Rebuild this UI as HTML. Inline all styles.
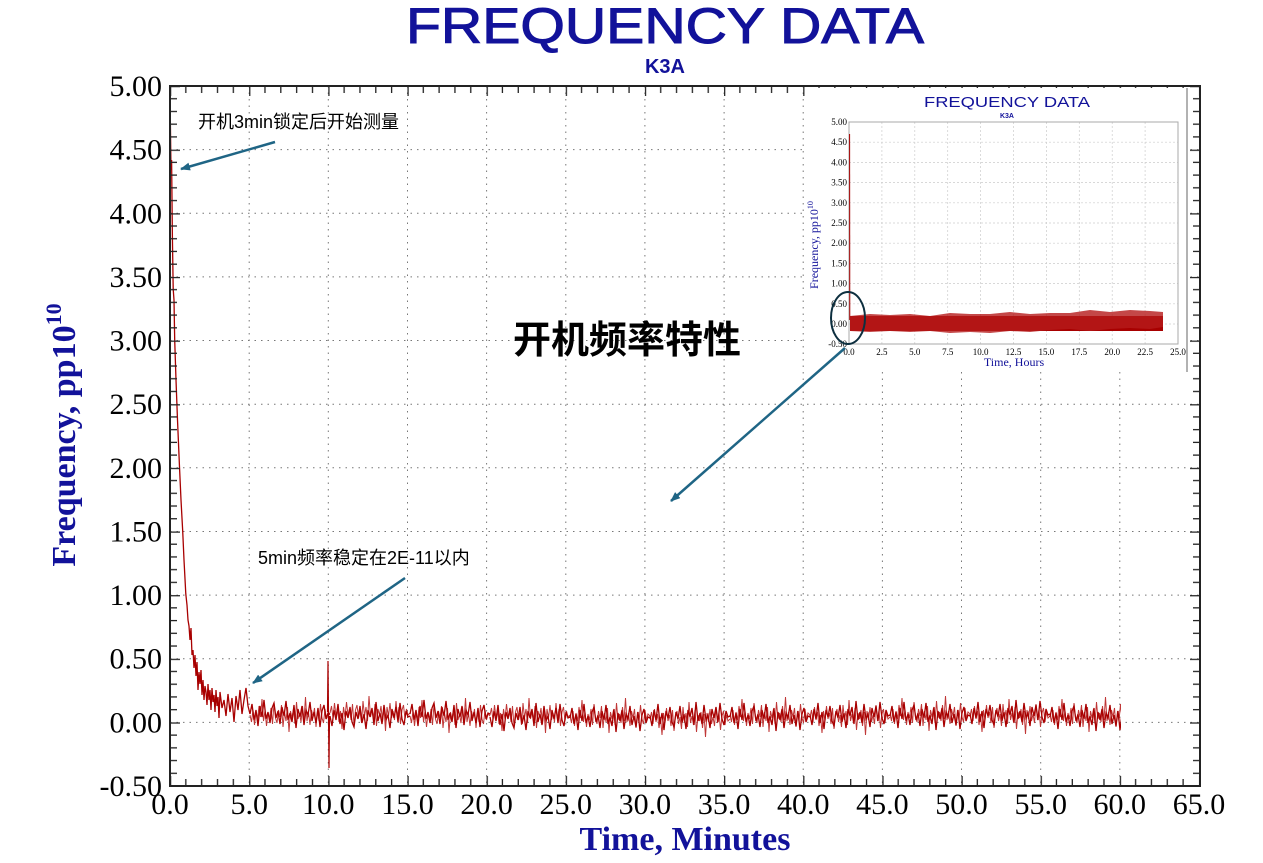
<!DOCTYPE html>
<html><head><meta charset="utf-8"><style>
html,body{margin:0;padding:0;background:#fff;}
svg{display:block;}
</style></head><body>
<svg width="1263" height="863" xmlns="http://www.w3.org/2000/svg" xmlns:xlink="http://www.w3.org/1999/xlink">
<defs>
<pattern id="tb" x="170" y="776" width="79.15" height="10" patternUnits="userSpaceOnUse">
<g stroke="#222" stroke-width="1.3"><line x1="0.6" y1="0" x2="0.6" y2="10"/><line x1="15.83" y1="3" x2="15.83" y2="10"/><line x1="31.66" y1="3" x2="31.66" y2="10"/><line x1="47.49" y1="3" x2="47.49" y2="10"/><line x1="63.32" y1="3" x2="63.32" y2="10"/></g></pattern>
<pattern id="tt" x="170" y="86" width="79.15" height="10" patternUnits="userSpaceOnUse">
<g stroke="#222" stroke-width="1.3"><line x1="0.6" y1="0" x2="0.6" y2="10"/><line x1="15.83" y1="0" x2="15.83" y2="7"/><line x1="31.66" y1="0" x2="31.66" y2="7"/><line x1="47.49" y1="0" x2="47.49" y2="7"/><line x1="63.32" y1="0" x2="63.32" y2="7"/></g></pattern>
<pattern id="tl" x="170" y="86" width="10" height="63.64" patternUnits="userSpaceOnUse">
<g stroke="#222" stroke-width="1.3"><line x1="0" y1="0.6" x2="10" y2="0.6"/><line x1="0" y1="12.73" x2="7" y2="12.73"/><line x1="0" y1="25.46" x2="7" y2="25.46"/><line x1="0" y1="38.18" x2="7" y2="38.18"/><line x1="0" y1="50.91" x2="7" y2="50.91"/></g></pattern>
<pattern id="tr" x="1190" y="86" width="10" height="63.64" patternUnits="userSpaceOnUse">
<g stroke="#222" stroke-width="1.3"><line x1="0" y1="0.6" x2="10" y2="0.6"/><line x1="3" y1="12.73" x2="10" y2="12.73"/><line x1="3" y1="25.46" x2="10" y2="25.46"/><line x1="3" y1="38.18" x2="10" y2="38.18"/><line x1="3" y1="50.91" x2="10" y2="50.91"/></g></pattern>
<path id="nz" d="M0,0 L2,-10 L4,6 L6,-4 L8,12 L10,-8 L12,3 L14,-14 L16,5 L18,-2 L20,9 L22,-6 L24,-11 L26,4 L28,-3 L30,10 L32,-7 L34,2 L36,-13 L38,6 L40,-1 L42,8 L44,-9 L46,14 L48,-5 L50,3 L52,-8 L54,11 L56,-4 L58,1 L60,-12 L62,7 L64,-2 L66,9 L68,-6 L70,13 L72,-3 L74,-9 L76,5 L78,-1 L80,0" fill="none" stroke="#a80000" stroke-width="1.3"/>
<path id="nz2" d="M0,0 L1.5,7 L3,-5 L4.5,10 L6,-3 L7.5,5 L9,-9 L10.5,2 L12,-16 L13.5,6 L15,-4 L16.5,11 L18,-2 L19.5,4 L21,-7 L22.5,9 L24,-12 L25.5,3 L27,8 L28.5,-5 L30,2 L31.5,-10 L33,12 L34.5,-3 L36,6 L37.5,-8 L39,17 L40.5,-4 L42,3 L43.5,-6 L45,9 L46.5,-13 L48,4 L49.5,-2 L51,7 L52.5,-9 L54,5 L55.5,-18 L57,6 L58.5,-3 L60,10 L61.5,-5 L63,2 L64.5,-7 L66,12 L67.5,-4 L69,6 L70.5,-11 L72,3 L73.5,8 L75,-6 L76.5,4 L78,-2 L80,0" fill="none" stroke="#c03838" stroke-width="1"/>
<clipPath id="cp"><rect x="170" y="86" width="951" height="700"/></clipPath>
<marker id="ar" markerWidth="10" markerHeight="8" refX="9" refY="4" orient="auto" markerUnits="userSpaceOnUse"><path d="M0,0L10,4L0,8z" fill="#1f6585"/></marker>
</defs>
<rect width="1263" height="863" fill="#fff"/>
<text x="665" y="43" text-anchor="middle" font-family="Liberation Sans, sans-serif" font-size="50" fill="#12129a" stroke="#12129a" stroke-width="1" textLength="518" lengthAdjust="spacingAndGlyphs">FREQUENCY DATA</text>
<text x="665" y="73" text-anchor="middle" font-family="Liberation Sans, sans-serif" font-size="20" font-weight="bold" fill="#12129a">K3A</text>

<g stroke="#777" stroke-width="1" stroke-dasharray="1.5,5">
<path d="M249.2,86V786M328.3,86V786M407.5,86V786M486.6,86V786M565.8,86V786M644.9,86V786M724.1,86V786M803.2,86V786M882.4,86V786M961.5,86V786M1040.7,86V786M1119.8,86V786"/>
<path d="M170,149.6H1200M170,213.3H1200M170,276.9H1200M170,340.5H1200M170,404.2H1200M170,467.8H1200M170,531.5H1200M170,595.1H1200M170,658.7H1200M170,722.4H1200"/>
</g>

<g clip-path="url(#cp)">
<use xlink:href="#nz2" transform="translate(250,715)"/>
<use xlink:href="#nz2" transform="translate(330,713) scale(1,-1)"/>
<use xlink:href="#nz2" transform="translate(410,716)"/>
<use xlink:href="#nz2" transform="translate(490,715) scale(1,-1)"/>
<use xlink:href="#nz2" transform="translate(570,716)"/>
<use xlink:href="#nz2" transform="translate(650,719) scale(1,-1)"/>
<use xlink:href="#nz2" transform="translate(730,715)"/>
<use xlink:href="#nz2" transform="translate(810,717) scale(1,-1)"/>
<use xlink:href="#nz2" transform="translate(890,714)"/>
<use xlink:href="#nz2" transform="translate(970,716) scale(1,-1)"/>
<use xlink:href="#nz2" transform="translate(1050,715)"/>
<path d="M170.3,117 L171,170 L171.6,160 L172.4,238 L173.2,289 L174,300 L174.7,340 L176,380 L177.5,420 L179.5,467 L181,500 L182.7,531 L184,560 L185.8,594 L187,605 L188,620 L189,626 L190,640 L191,628 L192,655 L193,650 L194,668 L195,655 L196,676 L197,662 L198,690 L199,672 L200,684 L201,670 L202,695 L203,680 L204,700 L205,686 L206,692 L207,705 L208,684 L209,700 L210,690 L211,710 L212,688 L213,702 L214,695 L215,712 L216,690 L217,706 L218,697 L219,718 L220,692 L222,708 L224,700 L226,716 L228,694 L230,712 L232,698 L234,722 L236,696 L238,710 L240,690 L242,714 L244,700 L246,688 L248,706 L250,714" fill="none" stroke="#a80000" stroke-width="1.3"/>
<use xlink:href="#nz" transform="translate(250,714)"/>
<use xlink:href="#nz" transform="translate(330,716) scale(1,-1)"/>
<use xlink:href="#nz" transform="translate(410,714)"/>
<use xlink:href="#nz" transform="translate(490,717) scale(1,-1)"/>
<use xlink:href="#nz" transform="translate(570,718)"/>
<use xlink:href="#nz" transform="translate(650,716) scale(1,-1)"/>
<use xlink:href="#nz" transform="translate(730,717)"/>
<use xlink:href="#nz" transform="translate(810,715) scale(1,-1)"/>
<use xlink:href="#nz" transform="translate(890,716)"/>
<use xlink:href="#nz" transform="translate(970,714) scale(1,-1)"/>
<use xlink:href="#nz" transform="translate(1050,717)"/>
<path d="M327.5,712 L328,661 L328.5,715 L329,768 L329.5,716" fill="none" stroke="#a80000" stroke-width="1.2"/>
</g>

<rect x="170" y="86" width="1030" height="10" fill="url(#tt)"/>
<rect x="170" y="776" width="1030" height="10" fill="url(#tb)"/>
<rect x="170" y="86" width="10" height="700" fill="url(#tl)"/>
<rect x="1190" y="86" width="10" height="700" fill="url(#tr)"/>
<rect x="170" y="86" width="1030" height="700" fill="none" stroke="#222" stroke-width="2"/>

<g font-family="Liberation Serif, serif" font-size="30" fill="#000" text-anchor="end">
<text x="162" y="96">5.00</text><text x="162" y="159.6">4.50</text><text x="162" y="223.3">4.00</text><text x="162" y="286.9">3.50</text><text x="162" y="350.5">3.00</text><text x="162" y="414.2">2.50</text><text x="162" y="477.8">2.00</text><text x="162" y="541.5">1.50</text><text x="162" y="605.1">1.00</text><text x="162" y="668.7">0.50</text><text x="162" y="732.4">0.00</text><text x="162" y="796">-0.50</text>
</g>
<g font-family="Liberation Serif, serif" font-size="30" fill="#000" text-anchor="middle">
<text x="170" y="814">0.0</text><text x="249.2" y="814">5.0</text><text x="328.3" y="814">10.0</text><text x="407.5" y="814">15.0</text><text x="486.6" y="814">20.0</text><text x="565.8" y="814">25.0</text><text x="644.9" y="814">30.0</text><text x="724.1" y="814">35.0</text><text x="803.2" y="814">40.0</text><text x="882.4" y="814">45.0</text><text x="961.5" y="814">50.0</text><text x="1040.7" y="814">55.0</text><text x="1119.8" y="814">60.0</text><text x="1199" y="814">65.0</text>
</g>
<text transform="translate(75,435) rotate(-90)" text-anchor="middle" font-family="Liberation Serif, serif" font-size="34" font-weight="bold" fill="#12129a">Frequency, pp10<tspan dy="-14" font-size="22">10</tspan></text>
<text x="685" y="850" text-anchor="middle" font-family="Liberation Serif, serif" font-size="34" font-weight="bold" fill="#12129a">Time,  Minutes</text>

<!-- inset -->
<rect x="805" y="88" width="382" height="284" fill="#fff"/>
<line x1="1187" y1="88" x2="1187" y2="372" stroke="#999" stroke-width="1.5"/>
<text x="1007" y="107" text-anchor="middle" font-family="Liberation Sans, sans-serif" font-size="15" fill="#12129a" textLength="166" lengthAdjust="spacingAndGlyphs">FREQUENCY DATA</text>
<text x="1007" y="118" text-anchor="middle" font-family="Liberation Sans, sans-serif" font-size="7" font-weight="bold" fill="#12129a">K3A</text>
<g stroke="#ccc" stroke-width="0.7" stroke-dasharray="2,2">
<path d="M881.9,122V344M914.8,122V344M947.7,122V344M980.6,122V344M1013.5,122V344M1046.4,122V344M1079.3,122V344M1112.2,122V344M1145.1,122V344"/>
<path d="M849,142.2H1178M849,162.4H1178M849,182.6H1178M849,202.8H1178M849,223H1178M849,243.2H1178M849,263.4H1178M849,283.6H1178M849,303.8H1178M849,324H1178"/>
</g>
<rect x="849" y="122" width="329" height="222" fill="none" stroke="#aaa" stroke-width="1"/>
<path d="M849.6,134 L849.8,320" stroke="#a80000" stroke-width="1"/>
<rect x="850" y="316" width="313" height="15" fill="#a80000"/>
<path d="M850,316 l20,-2 l20,1 l20,-1 l20,2 l20,-3 l20,1 l20,0 l20,-2 l20,2 l20,-1 l20,0 l20,-3 l20,2 l20,-2 l20,1 l13,1 v15 l-13,2 l-20,-1 l-20,1 l-20,2 l-20,-2 l-20,1 l-20,2 l-20,-1 l-20,2 l-20,-1 l-20,1 l-20,-2 l-20,1 l-20,-1 l-20,1 l-20,-1z" fill="#b51a1a" opacity="0.8"/>
<g font-family="Liberation Serif, serif" font-size="9" fill="#000" text-anchor="end">
<text x="847" y="125">5.00</text><text x="847" y="145.2">4.50</text><text x="847" y="165.4">4.00</text><text x="847" y="185.6">3.50</text><text x="847" y="205.8">3.00</text><text x="847" y="226">2.50</text><text x="847" y="246.2">2.00</text><text x="847" y="266.4">1.50</text><text x="847" y="286.6">1.00</text><text x="847" y="306.8">0.50</text><text x="847" y="327">0.00</text><text x="847" y="347.2">-0.50</text>
</g>
<g font-family="Liberation Serif, serif" font-size="9" fill="#000" text-anchor="middle">
<text x="849" y="355">0.0</text><text x="881.9" y="355">2.5</text><text x="914.8" y="355">5.0</text><text x="947.7" y="355">7.5</text><text x="980.6" y="355">10.0</text><text x="1013.5" y="355">12.5</text><text x="1046.4" y="355">15.0</text><text x="1079.3" y="355">17.5</text><text x="1112.2" y="355">20.0</text><text x="1145.1" y="355">22.5</text><text x="1178" y="355">25.0</text>
</g>
<text transform="translate(818,245) rotate(-90)" text-anchor="middle" font-family="Liberation Serif, serif" font-size="12" fill="#12129a">Frequency, pp10<tspan dy="-5" font-size="8">10</tspan></text>
<text x="1014" y="366" text-anchor="middle" font-family="Liberation Serif, serif" font-size="12" fill="#12129a">Time, Hours</text>

<g font-family="Liberation Sans, 'Noto Sans CJK SC', sans-serif" fill="#000">
<text x="198" y="128" font-size="18">开机3min锁定后开始测量</text>
<text x="258" y="564" font-size="18">5min频率稳定在2E-11以内</text>
<text x="513" y="353" font-size="38" font-weight="bold">开机频率特性</text>
</g>
<g stroke="#1f6585" stroke-width="2.5" fill="none">
<line x1="275" y1="142" x2="181" y2="169" marker-end="url(#ar)"/>
<line x1="405" y1="578" x2="253" y2="683" marker-end="url(#ar)"/>
<line x1="845" y1="348" x2="671" y2="501" marker-end="url(#ar)"/>
<ellipse cx="848" cy="318" rx="17" ry="26" stroke="#0d2f3f" stroke-width="2"/>
</g>
</svg>
</body></html>
